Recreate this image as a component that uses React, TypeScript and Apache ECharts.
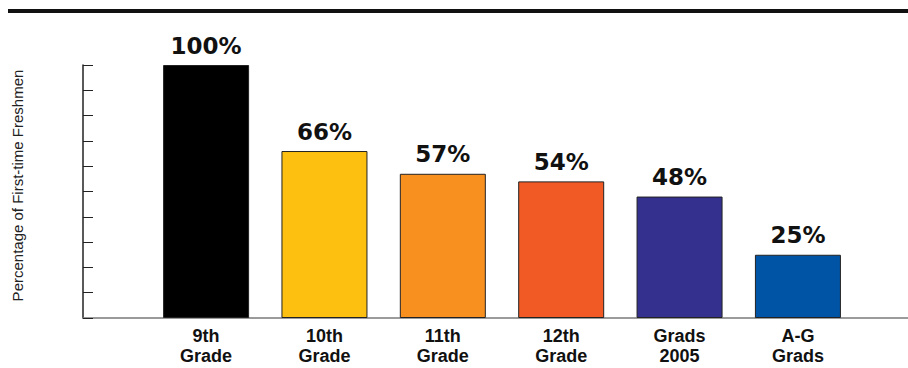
import React, { useEffect, useRef } from "react";
import * as echarts from "echarts";

const categories = ["9th\nGrade", "10th\nGrade", "11th\nGrade", "12th\nGrade", "Grads\n2005", "A-G\nGrads"];
const percentages = [100, 66, 57, 54, 48, 25];
const barColors = ["#000000", "#FDC010", "#F7901E", "#F15A24", "#33308E", "#0054A5"];
const positions = [1, 2, 3, 4, 5, 6];

export default function App() {
  const ref = useRef<HTMLDivElement>(null);
  useEffect(() => {
    document.body.style.margin = "0";
    const chart = echarts.init(ref.current!, null, { renderer: "svg" });
    chart.setOption({
      animation: false,
      backgroundColor: "#ffffff",
      graphic: [
        {
          type: "rect",
          left: 8,
          top: 9,
          shape: { width: 900, height: 4 },
          style: { fill: "#111111" },
        },
      ],
      grid: { left: 83, right: 0, top: 65, bottom: 50, containLabel: false },
      xAxis: {
        type: "value",
        min: -0.04,
        max: 6.93,
        axisLine: { show: true, onZero: false, lineStyle: { color: "#7a7a7a", width: 1.5 } },
        axisTick: { show: false },
        splitLine: { show: false },
        axisLabel: {
          customValues: positions,
          formatter: (v: number) => categories[Math.round(v) - 1] ?? "",
          fontFamily: "Liberation Sans, Arial, sans-serif",
          fontWeight: "bold",
          fontSize: 18,
          lineHeight: 20,
          color: "#111111",
          margin: 8,
        },
      },
      yAxis: {
        type: "value",
        min: 0,
        max: 100,
        interval: 10,
        name: "Percentage of First-time Freshmen",
        nameLocation: "middle",
        nameGap: 58,
        nameTextStyle: {
          fontFamily: "Liberation Sans, Arial, sans-serif",
          fontSize: 15,
          color: "#222222",
          padding: [0, 0, 0, 12],
        },
        axisLine: { show: true, onZero: false, lineStyle: { color: "#222222", width: 1.5 } },
        axisTick: { show: true, inside: true, length: 10, lineStyle: { color: "#222222", width: 1 } },
        axisLabel: { show: false },
        splitLine: { show: false },
      },
      series: [
        {
          type: "bar",
          barWidth: 86,
          data: percentages.map((v, i) => ({
            value: [positions[i], v],
            itemStyle: { color: barColors[i] },
          })),
          itemStyle: { borderColor: "#222222", borderWidth: 1 },
          label: {
            show: true,
            position: "top",
            distance: 8,
            formatter: (p: any) => p.value[1] + "%",
            fontFamily: "DejaVu Sans, sans-serif",
            fontWeight: "bold",
            fontSize: 23,
            color: "#111111",
          },
        },
      ],
    });
    return () => chart.dispose();
  }, []);
  return <div ref={ref} style={{ width: 908, height: 368 }} />;
}
